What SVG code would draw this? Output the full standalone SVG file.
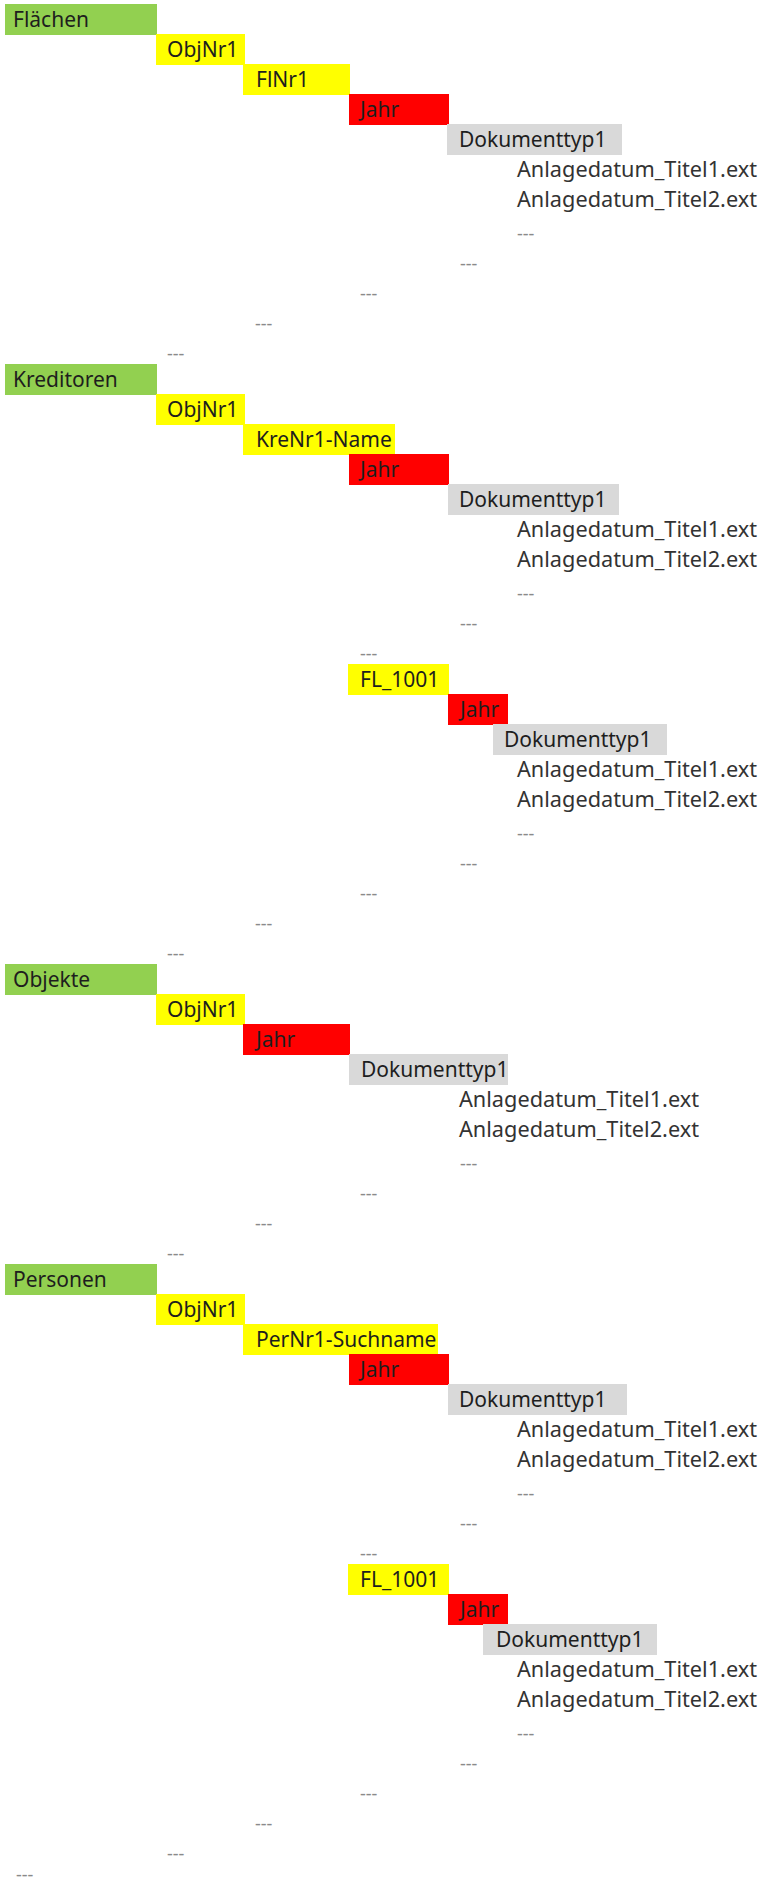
<svg xmlns="http://www.w3.org/2000/svg" width="761" height="1887" viewBox="0 0 761 1887">
<style>
.g{fill:#92D050}.y{fill:#FFFF00}.r{fill:#FF0000}.d{fill:#D9D9D9}
text{font-family:"Noto Sans","Open Sans","Liberation Sans",sans-serif;font-size:21px;fill:#1e1e1e}
.f{fill:#333333}
.m{font-size:18px;fill:#8a8a8a}
</style>
<rect width="761" height="1887" fill="#ffffff"/>
<!-- Flächen -->
<g id="flaechen"><rect class="g" x="5" y="4" width="152" height="31"/><text x="13" y="27">Flächen</text></g>
<g id="fl-objnr1"><rect class="y" x="156" y="34" width="89" height="31"/><text x="167" y="57">ObjNr1</text></g>
<g id="fl-flnr1"><rect class="y" x="243" y="64" width="107" height="31"/><text x="256" y="87">FlNr1</text></g>
<g id="fl-jahr"><rect class="r" x="349" y="94" width="100" height="31"/><text x="360" y="117">Jahr</text></g>
<g id="fl-doktyp"><rect class="d" x="447" y="124" width="175" height="31"/><text x="459" y="147">Dokumenttyp1</text></g>
<g id="fl-datei1"><text class="f" x="517" y="177" textLength="240" lengthAdjust="spacingAndGlyphs">Anlagedatum_Titel1.ext</text></g>
<g id="fl-datei2"><text class="f" x="517" y="207" textLength="240" lengthAdjust="spacingAndGlyphs">Anlagedatum_Titel2.ext</text></g>
<g id="fl-more"><text class="m" x="517" y="240">---</text><text class="m" x="460" y="270">---</text><text class="m" x="360" y="300">---</text><text class="m" x="255" y="330">---</text><text class="m" x="167" y="360">---</text></g>
<!-- Kreditoren -->
<g id="kreditoren"><rect class="g" x="5" y="364" width="152" height="31"/><text x="13" y="387">Kreditoren</text></g>
<g id="kr-objnr1"><rect class="y" x="156" y="394" width="89" height="31"/><text x="167" y="417">ObjNr1</text></g>
<g id="kr-krenr1"><rect class="y" x="243" y="424" width="152" height="31"/><text x="256" y="447">KreNr1-Name</text></g>
<g id="kr-jahr"><rect class="r" x="349" y="454" width="100" height="31"/><text x="360" y="477">Jahr</text></g>
<g id="kr-doktyp"><rect class="d" x="448" y="484" width="171" height="31"/><text x="459" y="507">Dokumenttyp1</text></g>
<g id="kr-datei1"><text class="f" x="517" y="537" textLength="240" lengthAdjust="spacingAndGlyphs">Anlagedatum_Titel1.ext</text></g>
<g id="kr-datei2"><text class="f" x="517" y="567" textLength="240" lengthAdjust="spacingAndGlyphs">Anlagedatum_Titel2.ext</text></g>
<g id="kr-more1"><text class="m" x="517" y="600">---</text><text class="m" x="460" y="630">---</text><text class="m" x="360" y="660">---</text></g>
<g id="kr-fl1001"><rect class="y" x="348" y="664" width="101" height="31"/><text x="360" y="687">FL_1001</text></g>
<g id="kr-fl-jahr"><rect class="r" x="448" y="694" width="60" height="31"/><text x="460" y="717">Jahr</text></g>
<g id="kr-fl-doktyp"><rect class="d" x="493" y="724" width="174" height="31"/><text x="504" y="747">Dokumenttyp1</text></g>
<g id="kr-fl-datei1"><text class="f" x="517" y="777" textLength="240" lengthAdjust="spacingAndGlyphs">Anlagedatum_Titel1.ext</text></g>
<g id="kr-fl-datei2"><text class="f" x="517" y="807" textLength="240" lengthAdjust="spacingAndGlyphs">Anlagedatum_Titel2.ext</text></g>
<g id="kr-more2"><text class="m" x="517" y="840">---</text><text class="m" x="460" y="870">---</text><text class="m" x="360" y="900">---</text><text class="m" x="255" y="930">---</text><text class="m" x="167" y="960">---</text></g>
<!-- Objekte -->
<g id="objekte"><rect class="g" x="5" y="964" width="152" height="31"/><text x="13" y="987">Objekte</text></g>
<g id="ob-objnr1"><rect class="y" x="156" y="994" width="89" height="31"/><text x="167" y="1017">ObjNr1</text></g>
<g id="ob-jahr"><rect class="r" x="243" y="1024" width="107" height="31"/><text x="256" y="1047">Jahr</text></g>
<g id="ob-doktyp"><rect class="d" x="349" y="1054" width="159" height="31"/><text x="361" y="1077">Dokumenttyp1</text></g>
<g id="ob-datei1"><text class="f" x="459" y="1107" textLength="240" lengthAdjust="spacingAndGlyphs">Anlagedatum_Titel1.ext</text></g>
<g id="ob-datei2"><text class="f" x="459" y="1137" textLength="240" lengthAdjust="spacingAndGlyphs">Anlagedatum_Titel2.ext</text></g>
<g id="ob-more"><text class="m" x="460" y="1170">---</text><text class="m" x="360" y="1200">---</text><text class="m" x="255" y="1230">---</text><text class="m" x="167" y="1260">---</text></g>
<!-- Personen -->
<g id="personen"><rect class="g" x="5" y="1264" width="152" height="31"/><text x="13" y="1287">Personen</text></g>
<g id="pe-objnr1"><rect class="y" x="156" y="1294" width="89" height="31"/><text x="167" y="1317">ObjNr1</text></g>
<g id="pe-pernr1"><rect class="y" x="243" y="1324" width="195" height="31"/><text x="256" y="1347">PerNr1-Suchname</text></g>
<g id="pe-jahr"><rect class="r" x="349" y="1354" width="100" height="31"/><text x="360" y="1377">Jahr</text></g>
<g id="pe-doktyp"><rect class="d" x="448" y="1384" width="179" height="31"/><text x="459" y="1407">Dokumenttyp1</text></g>
<g id="pe-datei1"><text class="f" x="517" y="1437" textLength="240" lengthAdjust="spacingAndGlyphs">Anlagedatum_Titel1.ext</text></g>
<g id="pe-datei2"><text class="f" x="517" y="1467" textLength="240" lengthAdjust="spacingAndGlyphs">Anlagedatum_Titel2.ext</text></g>
<g id="pe-more1"><text class="m" x="517" y="1500">---</text><text class="m" x="460" y="1530">---</text><text class="m" x="360" y="1560">---</text></g>
<g id="pe-fl1001"><rect class="y" x="348" y="1564" width="101" height="31"/><text x="360" y="1587">FL_1001</text></g>
<g id="pe-fl-jahr"><rect class="r" x="448" y="1594" width="60" height="31"/><text x="460" y="1617">Jahr</text></g>
<g id="pe-fl-doktyp"><rect class="d" x="483" y="1624" width="174" height="31"/><text x="496" y="1647">Dokumenttyp1</text></g>
<g id="pe-fl-datei1"><text class="f" x="517" y="1677" textLength="240" lengthAdjust="spacingAndGlyphs">Anlagedatum_Titel1.ext</text></g>
<g id="pe-fl-datei2"><text class="f" x="517" y="1707" textLength="240" lengthAdjust="spacingAndGlyphs">Anlagedatum_Titel2.ext</text></g>
<g id="pe-more2"><text class="m" x="517" y="1740">---</text><text class="m" x="460" y="1770">---</text><text class="m" x="360" y="1800">---</text><text class="m" x="255" y="1830">---</text><text class="m" x="167" y="1860">---</text><text class="m" x="16" y="1881">---</text></g>
<g id="connectors"/>
</svg>
